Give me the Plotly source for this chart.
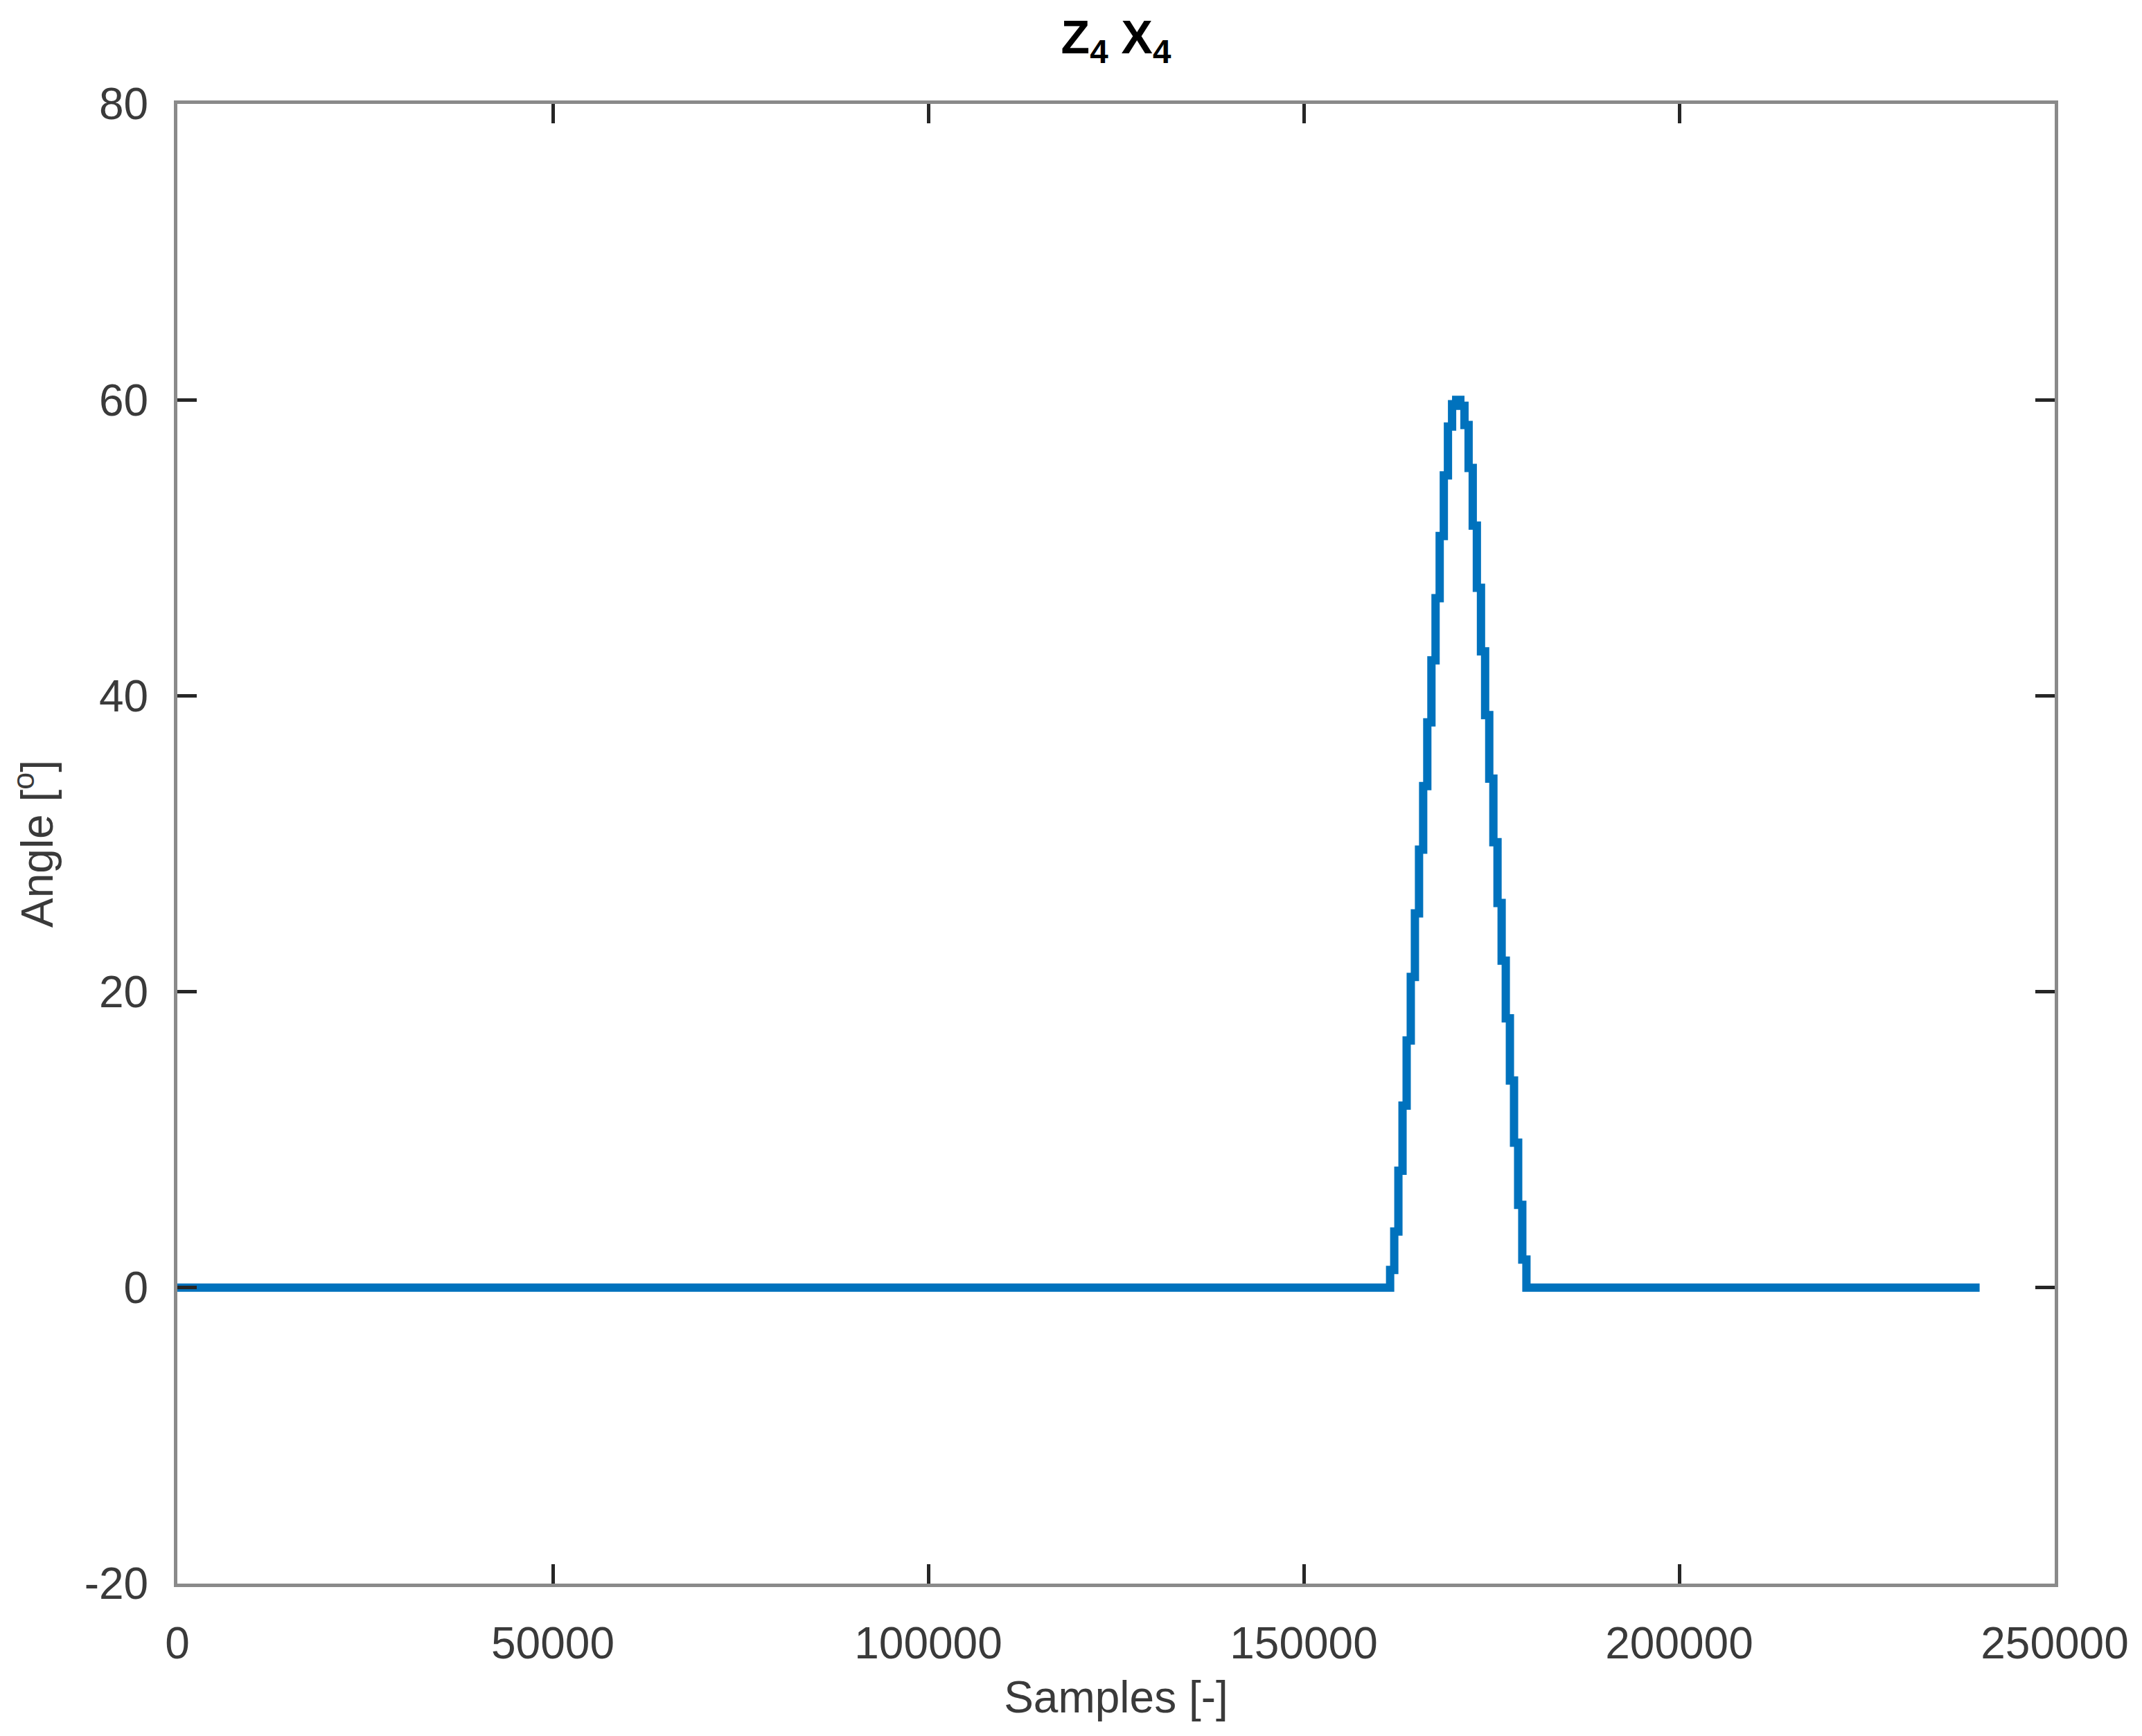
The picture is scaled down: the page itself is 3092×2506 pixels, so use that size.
"""Angle Z4 X4 : tracé de l'angle en fonction des échantillons."""

import plotly.graph_objects as go

# données (escalier : chaque valeur tenue jusqu'au point suivant)
samples = [0, 161500, 162050, 162600, 163150, 163700, 164250, 164800, 165350,
           165900, 166450, 167000, 167550, 168100, 168650, 169200, 169750,
           170300, 170850, 171400, 171950, 172500, 173050, 173600, 174150,
           174700, 175250, 175800, 176350, 176900, 177450, 178000, 178550,
           179100, 179650, 240000]
angle = [0, 1.2, 3.8, 7.9, 12.3, 16.7, 21.0, 25.3, 29.6,
         33.9, 38.2, 42.4, 46.6, 50.8, 54.9, 58.2, 59.7,
         60.0, 59.6, 58.3, 55.4, 51.5, 47.3, 43.0, 38.7,
         34.4, 30.1, 26.0, 22.1, 18.2, 14.0, 9.8, 5.6,
         1.9, 0, 0]

x_ticks = [0, 50000, 100000, 150000, 200000, 250000]
y_ticks = [-20, 0, 20, 40, 60, 80]

FONT = "Liberation Sans, Arial, sans-serif"


def main():
    """Construit la figure et l'écrit dans out.html."""
    fig = go.Figure()
    fig.add_trace(go.Scatter(x=samples, y=angle, mode="lines",
                             line=dict(color="#0072BD", width=12, shape="hv"),
                             showlegend=False))

    axis_style = dict(showline=True, linecolor="#8a8a8a", linewidth=5,
                      mirror="ticks", ticks="inside", ticklen=28, tickwidth=5,
                      tickcolor="#262626", showgrid=False, zeroline=False,
                      tickfont=dict(family=FONT, size=64, color="#3a3a3a"))

    fig.update_layout(
        width=3092, height=2506,
        paper_bgcolor="white", plot_bgcolor="white",
        margin=dict(l=248, r=134, t=142, b=228),
        title=dict(text="Z<sub>4</sub> X<sub>4</sub>", x=0.5, xanchor="center",
                   xref="paper", y=0.982, yanchor="middle", yref="container",
                   font=dict(family=FONT, size=68, color="black", weight="bold")),
        xaxis=dict(range=[0, 250000], tickvals=x_ticks,
                   ticktext=[str(v) for v in x_ticks],
                   ticklabelstandoff=26,
                   title=dict(text="Samples [-]", standoff=22,
                              font=dict(family=FONT, size=64, color="#3a3a3a")),
                   **axis_style),
        yaxis=dict(range=[-20, 80], tickvals=y_ticks,
                   ticktext=[str(v) for v in y_ticks],
                   ticklabelstandoff=24,
                   title=dict(text="Angle [<sup>o</sup>]", standoff=30,
                              font=dict(family=FONT, size=64, color="#3a3a3a")),
                   **axis_style),
    )
    fig.write_html("out.html")


if __name__ == "__main__":
    main()
